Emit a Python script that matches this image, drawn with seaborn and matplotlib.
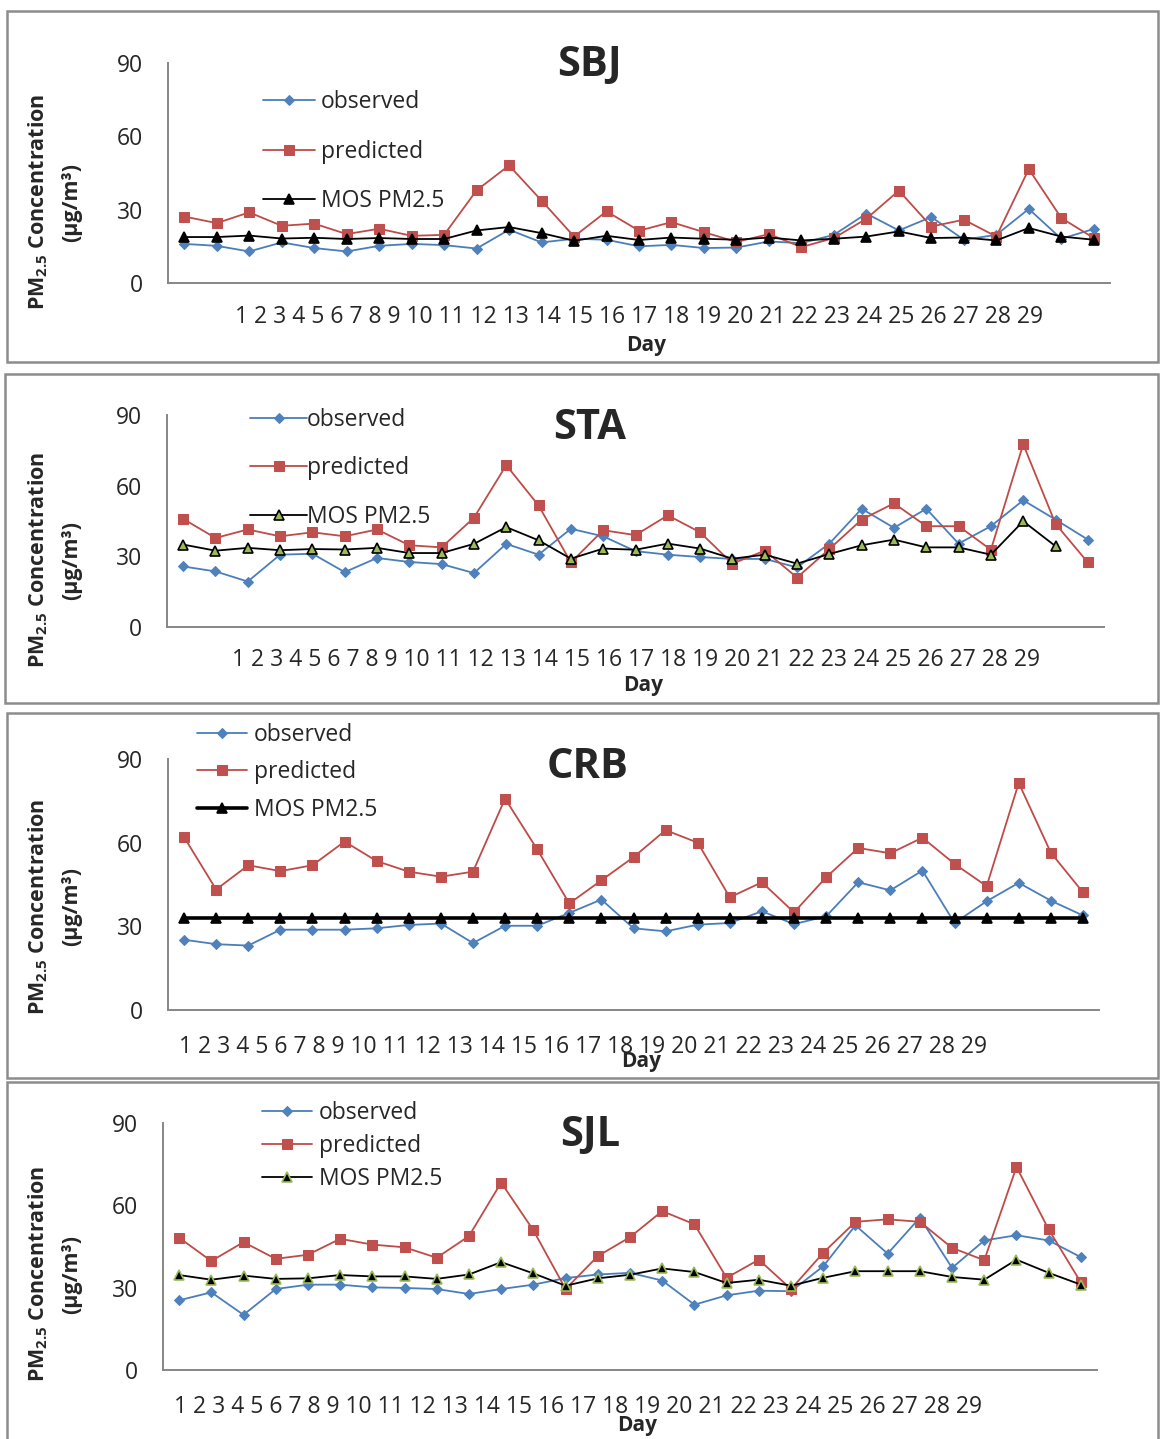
"""
PM2.5 daily concentration — observed vs predicted vs MOS, four stations.
"""

import numpy as np
import pandas as pd
import matplotlib.pyplot as plt
import seaborn as sns
from matplotlib.patches import Rectangle

# ── Data ─────────────────────────────────────────────────────────────────────

DAYS = list(range(1, 30))
DAY_LABELS = [str(d) for d in DAYS]
Y_TICKS = [0, 30, 60, 90]
SERIES = ["observed", "predicted", "MOS PM2.5"]
STATIONS = ["SBJ", "STA", "CRB", "SJL"]

SBJ_OBS = [16.0, 15.2, 12.9, 16.6, 14.3, 12.9, 15.2, 16.0, 15.5, 14.1, 21.8, 16.6, 18.1, 17.7, 15.0,
           15.6, 14.3, 14.5, 17.0, 16.3, 19.7, 28.4, 21.5, 27.0, 17.7, 19.7, 30.3, 18.1, 22.1]
SBJ_PRED = [27.2, 24.5, 28.9, 23.4, 24.3, 20.0, 22.2, 19.3, 19.7, 37.9, 48.1, 33.7, 19.0, 29.3, 21.4,
            24.9, 20.8, 16.8, 20.0, 14.7, 18.4, 26.3, 37.8, 23.1, 25.9, 19.0, 46.6, 26.6, 18.4]
SBJ_MOS = [18.8, 18.8, 19.4, 18.2, 18.5, 18.0, 18.4, 18.0, 18.0, 21.5, 22.9, 20.4, 17.3, 19.3, 17.6,
           18.6, 18.1, 17.7, 18.6, 17.4, 18.1, 19.0, 21.1, 18.4, 18.6, 17.4, 22.5, 19.0, 17.7]

STA_OBS = [25.7, 23.6, 19.3, 30.7, 31.1, 23.3, 29.3, 27.6, 26.7, 22.9, 35.3, 30.7, 41.7, 38.5, 32.2,
           30.7, 29.7, 28.9, 28.9, 25.3, 35.4, 50.2, 42.1, 50.2, 35.4, 42.8, 53.8, 45.6, 37.1]
STA_PRED = [45.9, 37.8, 41.4, 38.5, 40.2, 38.5, 41.4, 34.7, 33.8, 46.4, 68.7, 51.6, 27.4, 41.1, 39.0,
            47.4, 40.2, 26.9, 32.4, 21.0, 33.1, 45.6, 52.5, 42.8, 42.8, 32.8, 77.6, 43.8, 27.4]
STA_MOS = [35.0, 32.4, 33.6, 32.6, 33.1, 32.9, 33.6, 31.4, 31.4, 35.3, 42.4, 36.8, 29.0, 33.3, 32.8,
           35.4, 33.3, 29.0, 30.7, 26.9, 31.0, 34.7, 37.1, 33.8, 33.8, 30.7, 44.9, 34.3, np.nan]

CRB_OBS = [25.2, 23.6, 23.1, 28.8, 28.8, 28.8, 29.3, 30.5, 31.0, 24.0, 30.2, 30.2, 34.8, 39.6, 29.3,
           28.2, 30.6, 31.2, 35.4, 30.8, 33.6, 45.8, 42.9, 50.0, 31.2, 39.0, 45.6, 39.2, 33.9]
CRB_PRED = [62.0, 43.2, 51.9, 49.8, 51.9, 60.4, 53.4, 49.6, 47.8, 49.6, 75.8, 57.6, 38.2, 46.5, 54.8,
            64.5, 60.0, 40.4, 45.8, 35.0, 47.6, 58.1, 56.2, 61.8, 52.4, 44.4, 81.4, 56.4, 42.2]
CRB_MOS = [32.9] * 29

SJL_OBS = [25.4, 28.3, 20.1, 29.5, 31.1, 31.1, 30.1, 29.9, 29.5, 27.7, 29.5, 31.1, 33.5, 34.8, 35.4,
           32.6, 23.8, 27.2, 28.9, 28.7, 37.8, 52.7, 42.4, 55.5, 37.2, 47.2, 49.1, 47.2, 41.1]
SJL_PRED = [48.2, 39.7, 46.6, 40.5, 42.0, 47.8, 45.7, 44.7, 40.9, 48.8, 68.3, 50.9, 29.5, 41.5, 48.4,
            57.9, 53.1, 33.6, 40.2, 29.5, 42.7, 54.0, 54.9, 54.0, 44.5, 40.0, 74.0, 51.2, 31.9]
SJL_MOS = [34.6, 32.9, 34.4, 33.2, 33.4, 34.6, 34.1, 34.1, 33.2, 34.8, 39.3, 35.2, 30.7, 33.4, 34.7,
           37.0, 35.7, 31.7, 32.9, 30.7, 33.6, 36.0, 36.0, 36.0, 33.9, 32.9, 40.2, 35.4, 31.1]

DATA = {
    "SBJ": (SBJ_OBS, SBJ_PRED, SBJ_MOS),
    "STA": (STA_OBS, STA_PRED, STA_MOS),
    "CRB": (CRB_OBS, CRB_PRED, CRB_MOS),
    "SJL": (SJL_OBS, SJL_PRED, SJL_MOS),
}

# ── Style ────────────────────────────────────────────────────────────────────

W, H = 1160, 1439
BLUE, BLUE_M = "#4A7EBB", "#4F81BD"
RED, RED_M = "#BE4B48", "#C0504D"
GREEN = "#9BBB59"
AXIS_GRAY = "#868686"
BORDER_GRAY = "#8C8C8C"

# pixel layout of each panel (Excel-like placement)
LAYOUT = {
    "SBJ": dict(ax=(168, 63, 1110, 283), box=(7, 11, 1158, 362), title=(589, 65),
                leg=(263, 90), leg_hl=52, leg_pad=6, leg_sp=1.12, ticks=(235, 317),
                day=(646, 345), ylab=202, mos_face="black", mos_edge="black", mos_lw=1.3),
    "STA": dict(ax=(167, 415, 1104, 627), box=(5, 374, 1158, 703), title=(590, 428),
                leg=(250, 408), leg_hl=57, leg_pad=0, leg_sp=1.06, ticks=(232, 660),
                day=(643, 686), ylab=560, mos_face=GREEN, mos_edge="black", mos_lw=1.3),
    "CRB": dict(ax=(168, 759, 1099, 1010), box=(7, 713, 1158, 1078), title=(588, 768),
                leg=(197, 723), leg_hl=50, leg_pad=7, leg_sp=0.58, ticks=(179, 1047),
                day=(641, 1062), ylab=907, mos_face="black", mos_edge="black", mos_lw=2.6),
    "SJL": dict(ax=(163, 1123, 1097, 1370), box=(7, 1082, 1158, 1460), title=(590, 1136),
                leg=(262, 1101), leg_hl=50, leg_pad=7, leg_sp=0.4, ticks=(174, 1407),
                day=(637, 1425), ylab=1274, mos_face="black", mos_edge=GREEN, mos_lw=1.3),
}

FS = 16.5

sns.set_style("white")
plt.rcParams["font.family"] = ["Open Sans", "DejaVu Sans"]
plt.rcParams["mathtext.fontset"] = "custom"
plt.rcParams["mathtext.rm"] = "Open Sans:bold"
plt.rcParams["mathtext.it"] = "Open Sans:bold"
plt.rcParams["mathtext.bf"] = "Open Sans:bold"


def fx(px):
    return px / W


def fy(py):
    return 1 - py / H


def draw_panel(fig, name):
    lay = LAYOUT[name]
    obs, pred, mos = DATA[name]
    df = pd.DataFrame({"day": DAYS, SERIES[0]: obs, SERIES[1]: pred, SERIES[2]: mos})

    # panel frame
    x0, y0, x1, y1 = lay["box"]
    fig.patches.append(Rectangle((fx(x0), fy(y1)), fx(x1 - x0), (y1 - y0) / H,
                                 transform=fig.transFigure, fill=False,
                                 edgecolor=BORDER_GRAY, linewidth=1.8, zorder=0))

    l, t, r, b = lay["ax"]
    ax = fig.add_axes([fx(l), fy(b), fx(r - l), (b - t) / H])

    sns.lineplot(data=df, x="day", y=SERIES[0], ax=ax, color=BLUE, lw=1.3,
                 marker="D", markersize=5.5, markerfacecolor=BLUE_M,
                 markeredgecolor=BLUE_M, label=SERIES[0])
    sns.lineplot(data=df, x="day", y=SERIES[1], ax=ax, color=RED, lw=1.3,
                 marker="s", markersize=7.5, markerfacecolor=RED_M,
                 markeredgecolor=RED_M, label=SERIES[1])
    sns.lineplot(data=df, x="day", y=SERIES[2], ax=ax, color="black", lw=lay["mos_lw"],
                 marker="^", markersize=7, markerfacecolor=lay["mos_face"],
                 markeredgecolor=lay["mos_edge"], markeredgewidth=1.2, label=SERIES[2])

    ax.set_xlim(0.5, 29.5)
    ax.set_ylim(0, 90)
    ax.set_xticks([])
    ax.set_yticks(Y_TICKS)
    ax.tick_params(axis="y", length=0, pad=18, labelsize=FS)
    ax.set_xlabel("")
    ax.set_ylabel("")
    ax.patch.set_alpha(0)
    for side in ["top", "right"]:
        ax.spines[side].set_visible(False)
    for side in ["left", "bottom"]:
        ax.spines[side].set_color(AXIS_GRAY)
        ax.spines[side].set_linewidth(1.4)

    lx, ly = lay["leg"]
    ax.legend(loc="upper left", bbox_to_anchor=(fx(lx), fy(ly)), bbox_transform=fig.transFigure,
              frameon=False, borderpad=0, borderaxespad=0, fontsize=FS,
              handlelength=lay["leg_hl"] / (FS * 100 / 72),
              handletextpad=lay["leg_pad"] / (FS * 100 / 72),
              labelspacing=lay["leg_sp"])

    # texts
    tx, ty = lay["title"]
    fig.text(fx(tx), fy(ty), name, ha="center", va="center", fontsize=30, fontweight="bold")
    kx, ky = lay["ticks"]
    fig.text(fx(kx), fy(ky), " ".join(DAY_LABELS), ha="left", va="center", fontsize=FS)
    dx, dy = lay["day"]
    fig.text(fx(dx), fy(dy), "Day", ha="center", va="center", fontsize=15, fontweight="bold")
    fig.text(fx(38), fy(lay["ylab"]), "PM$_{2.5}$ Concentration", rotation=90,
             ha="center", va="center", fontsize=15.5, fontweight="bold")
    fig.text(fx(72), fy(lay["ylab"]), "(µg/m³)", rotation=90,
             ha="center", va="center", fontsize=15.5, fontweight="bold")
    return ax


def main():
    fig = plt.figure(figsize=(W / 100, H / 100), dpi=100)
    for name in STATIONS:
        draw_panel(fig, name)
    fig.savefig("out.png", dpi=100, facecolor="white")


if __name__ == "__main__":
    main()
